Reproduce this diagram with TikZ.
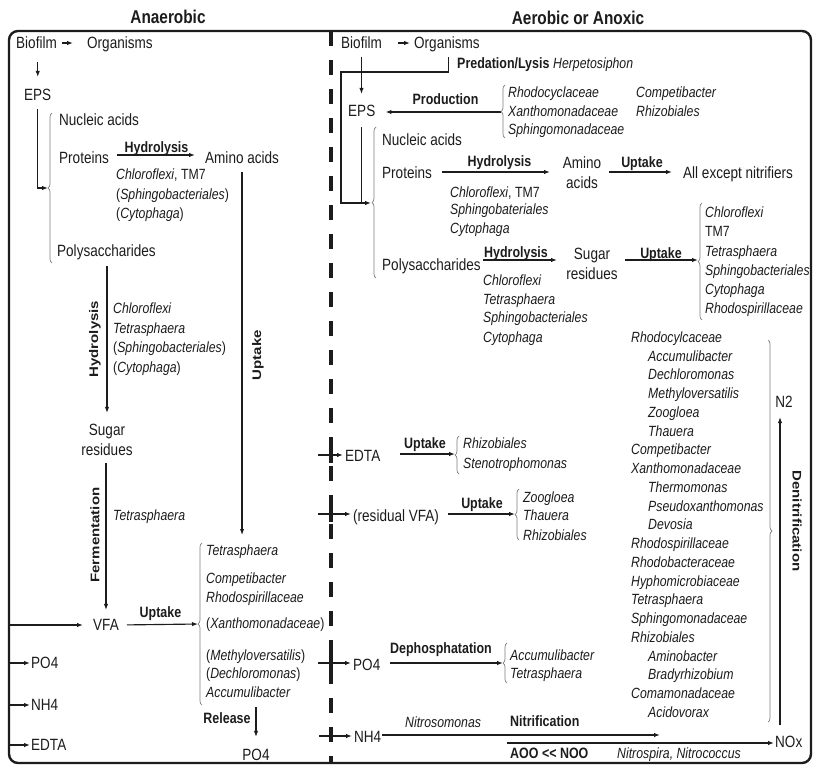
\documentclass[tikz,border=0pt]{standalone}
\usepackage{fontspec}
\setmainfont{Liberation Sans}[FakeStretch=0.83]
\newfontfamily\vertfont{Liberation Sans}
\usepackage{graphicx}
\usetikzlibrary{arrows.meta,decorations.pathreplacing}
\definecolor{ink}{RGB}{28,28,28}
\definecolor{bracegray}{RGB}{125,125,125}
\newcommand\fR{\fontsize{16.3}{19}\selectfont}
\newcommand\fI{\fontsize{14.8}{18}\selectfont\itshape}
\newcommand\fB{\fontsize{15}{18}\selectfont\bfseries}
\newcommand\fT{\fontsize{18.5}{22}\selectfont\bfseries}
\newcommand\fV{\vertfont\fontsize{15}{18}\selectfont\bfseries}
\newcommand\vlabel[1]{\scalebox{1}[0.83]{#1}}
\newcommand\parit[1]{{\upshape(}#1{\upshape)}}
\tikzset{
  base/.style={inner sep=0pt, text depth=0pt, anchor=west, text=ink},
  reg/.style={base, font=\fR, text height=11.7pt},
  ita/.style={base, font=\fI, text height=10.6pt},
  bld/.style={base, font=\fB, text height=10.7pt},
  ttl/.style={base, font=\fT, text height=13.2pt, anchor=center},
  rot/.style={inner sep=0pt, font=\fV, text=ink, anchor=center},
  arr/.style={draw=ink, line width=1.15pt, -{Latex[length=6pt,width=4.4pt]}},
  ln/.style={draw=ink, line width=1.15pt},
  brc/.style={draw=bracegray, line width=0.7pt, decorate, decoration={brace, amplitude=4pt}},
}
\begin{document}
\begin{tikzpicture}[x=1pt,y=-1pt]
\fill[white] (0,0) rectangle (813,766);
\useasboundingbox (0,0) rectangle (813,766);

% frame and the dashed boundary between the two zones
\draw[ink, line width=2.4pt, rounded corners=9pt] (9,31) rectangle (811,763);
\draw[ink, line width=4.5pt, dash pattern=on 15pt off 14pt] (331,31) -- (331,763);

% titles
\node[ttl] (tA) at (168,17) {Anaerobic};
\node[ttl] (tB) at (578,18) {Aerobic or Anoxic};

% ===================== anaerobic zone =====================
\node[reg] (bio1) at (16,43) {Biofilm};
\node[reg] (org1) at (87,43) {Organisms};
\draw[arr, shorten <=5pt, shorten >=14pt] (bio1.east) -- (org1.west);

\node[reg] (eps1) at (24,95) {EPS};
\draw[arr, shorten <=13pt, shorten >=12pt] (bio1.south -| eps1.north) -- (eps1.north);
\coordinate (bL1) at (48,188);
\draw[arr, shorten <=8pt] (eps1.south) |- (bL1);
\draw[brc] (52,263) -- (52,113);

\node[reg] (nuc1) at (59,120) {Nucleic acids};
\node[reg] (prot1) at (59,158) {Proteins};
\node[reg] (amino1) at (205,158) {Amino acids};
\draw[arr, shorten <=8pt, shorten >=10pt] ([yshift=3pt]prot1.east) -- ([yshift=3pt]amino1.west);
\node[bld, anchor=center] at (156.5,147) {Hydrolysis};
\node[ita] at (116,174) {Chloroflexi\upshape, TM7};
\node[ita] at (116,194) {\parit{Sphingobacteriales}};
\node[ita] at (116,213) {\parit{Cytophaga}};

\coordinate (upEnd) at (243,535);
\draw[arr, shorten <=8pt] (amino1.south) -- (amino1.south |- upEnd);
\node[rot, rotate=90] at (258,355) {\vlabel{Uptake}};

\node[reg] (poly1) at (57,251) {Polysaccharides};
\node[reg, anchor=center] (sug1) at (107,430) {Sugar};
\node[reg, anchor=center] (res1) at (107,450) {residues};
\draw[arr, shorten <=9pt, shorten >=11pt] (poly1.south -| sug1.north) -- (sug1.north);
\node[rot, rotate=90] at (95,339) {\vlabel{Hydrolysis}};
\node[ita] at (113,308) {Chloroflexi};
\node[ita] at (113,328) {Tetrasphaera};
\node[ita] at (113,347) {\parit{Sphingobacteriales}};
\node[ita] at (113,367) {\parit{Cytophaga}};

\node[reg, anchor=center] (vfa1) at (106,625) {VFA};
\draw[arr, shorten <=7pt, shorten >=9pt] (res1.south -| vfa1.north) -- (vfa1.north);
\node[rot, rotate=90] at (95,535) {\vlabel{Fermentation}};
\node[ita] at (113,515) {Tetrasphaera};

\coordinate (vfaIn) at (9,625);
\draw[arr, shorten >=10pt] (vfaIn) -- (vfa1.west);
\coordinate (bL2) at (198,624);
\draw[arr, shorten <=8pt] (vfa1.east) -- (bL2);
\node[bld, anchor=center] at (160.5,612) {Uptake};
\draw[brc] (202,705) -- (202,543);
\node[ita] at (206,550) {Tetrasphaera};
\node[ita] at (206,578) {Competibacter};
\node[ita] at (206,597) {Rhodospirillaceae};
\node[ita] at (206,623) {\parit{Xanthomonadaceae}};
\node[ita] at (206,655) {\parit{Methyloversatilis}};
\node[ita] at (206,673) {\parit{Dechloromonas}};
\node[ita] at (206,692) {Accumulibacter};

\node[bld, anchor=center] at (227,718) {Release};
\node[reg, anchor=center] (po4c) at (256,755) {PO4};
\coordinate (relTop) at (256,707);
\draw[arr, shorten >=12pt] (relTop) -- (po4c.north);

\coordinate (inP) at (9,663);
\node[reg] (po4L) at (31,663) {PO4};
\draw[arr, shorten >=1pt] (inP) -- (po4L.west);
\coordinate (inN) at (9,705);
\node[reg] (nh4L) at (31,705) {NH4};
\draw[arr, shorten >=1pt] (inN) -- (nh4L.west);
\coordinate (inE) at (9,745);
\node[reg] (edtaL) at (31,745) {EDTA};
\draw[arr, shorten >=1pt] (inE) -- (edtaL.west);

% ===================== aerobic / anoxic zone =====================
\node[reg] (bio2) at (341,43) {Biofilm};
\node[reg] (org2) at (414,43) {Organisms};
\draw[arr, shorten <=16pt, shorten >=4pt] (bio2.east) -- (org2.west);

\node[reg] (eps2) at (348,111) {EPS};
\draw[arr, shorten <=8pt, shorten >=11pt] (bio2.south) -- (bio2.south |- eps2.north);

\coordinate (predTurn) at (341,72);
\coordinate (epsJoin) at (341,203);
\coordinate (bR1) at (371,203);
\draw[arr] (org2.south) ++(1.5,8) |- (predTurn) -- (epsJoin) -- (bR1);
\draw[ln, shorten <=10pt] (bio2.south |- eps2.south) -- (bio2.south |- epsJoin);
\node[bld] at (457,63) {Predation/Lysis};
\node[ita] at (553,63) {Herpetosiphon};

\coordinate (bProd) at (501,112);
\draw[arr, shorten >=10pt] (bProd) -- (bProd -| eps2.east);
\node[bld, anchor=center] at (445.5,99) {Production};
\draw[brc] (505,138) -- (505,85);
\node[ita] at (508,92) {Rhodocyclaceae};
\node[ita] at (508,111) {Xanthomonadaceae};
\node[ita] at (508,129) {Sphingomonadaceae};
\node[ita] at (636,92) {Competibacter};
\node[ita] at (636,111) {Rhizobiales};

\draw[brc] (376,278) -- (376,127);
\node[reg] (nuc2) at (382,140) {Nucleic acids};
\node[reg] (prot2) at (382,173) {Proteins};
\node[reg, anchor=center] (amino2) at (582,163) {Amino};
\node[reg, anchor=center] (acids2) at (582,183) {acids};
\coordinate (pH0) at (442,172);
\coordinate (pH1) at (550,172);
\draw[arr] (pH0) -- (pH1);
\node[bld, anchor=center] at (499.5,161) {Hydrolysis};
\coordinate (aU0) at (609,172);
\coordinate (aU1) at (672,172);
\draw[arr] (aU0) -- (aU1);
\node[bld, anchor=center] at (642,162) {Uptake};
\node[reg] (allx) at (683,173) {All except nitrifiers};
\node[ita] at (450,192) {Chloroflexi\upshape, TM7};
\node[ita] at (450,209) {Sphingobateriales};
\node[ita] at (450,228) {Cytophaga};

\node[reg] (poly2) at (382,265) {Polysaccharides};
\node[reg, anchor=center] (sug2) at (592,254) {Sugar};
\node[reg, anchor=center] (res2) at (592,274) {residues};
\coordinate (sH0) at (483,260);
\coordinate (sH1) at (557,260);
\draw[arr] (sH0) -- (sH1);
\node[bld, anchor=center] at (516,252) {Hydrolysis};
\node[ita] at (483,280) {Chloroflexi};
\node[ita] at (483,299) {Tetrasphaera};
\node[ita] at (483,317) {Sphingobacteriales};
\node[ita] at (483,337) {Cytophaga};
\coordinate (sU0) at (625,260);
\coordinate (bR2) at (698,260);
\draw[arr] (sU0) -- (bR2);
\node[bld, anchor=center] at (661,253) {Uptake};
\draw[brc] (702,320) -- (702,203);
\node[ita] at (705,212) {Chloroflexi};
\node[ita] at (705,231) {\upshape TM7};
\node[ita] at (705,251) {Tetrasphaera};
\node[ita] at (705,270) {Sphingobacteriales};
\node[ita] at (705,289) {Cytophaga};
\node[ita] at (705,308) {Rhodospirillaceae};

% EDTA
\coordinate (inE2) at (318,455);
\node[reg] (edtaR) at (345,456) {EDTA};
\draw[arr, shorten >=2pt] (inE2) -- (inE2 -| edtaR.west);
\coordinate (eU0) at (400,454);
\coordinate (bR3) at (455,454);
\draw[arr] (eU0) -- (bR3);
\node[bld, anchor=center] at (425,443) {Uptake};
\draw[brc] (459,474) -- (459,436);
\node[ita] at (463,443) {Rhizobiales};
\node[ita] at (463,463) {Stenotrophomonas};

% residual VFA
\coordinate (inV2) at (318,514);
\node[reg] (rvfa) at (353,516) {(residual VFA)};
\draw[arr, shorten >=2pt] (inV2) -- (inV2 -| rvfa.west);
\coordinate (vU0) at (448,514);
\coordinate (bR4) at (515,514);
\draw[arr] (vU0) -- (bR4);
\node[bld, anchor=center] at (482,503) {Uptake};
\draw[brc] (519,540) -- (519,489);
\node[ita] at (523,497) {Zoogloea};
\node[ita] at (523,515) {Thauera};
\node[ita] at (523,535) {Rhizobiales};

% PO4
\coordinate (inP2) at (318,663);
\node[reg] (po4R) at (353,665) {PO4};
\draw[arr, shorten >=2pt] (inP2) -- (inP2 -| po4R.west);
\coordinate (dP0) at (390,663);
\coordinate (bR5) at (503,663);
\draw[arr] (dP0) -- (bR5);
\node[bld, anchor=center] at (441,648) {Dephosphatation};
\draw[brc] (507,683) -- (507,643);
\node[ita] at (510,655) {Accumulibacter};
\node[ita] at (510,673) {Tetrasphaera};

% crossing marks on the boundary
\foreach \yy in {455,514,663}
  \draw[ink, line width=4.5pt] (331,\yy-8) -- (331,\yy+8);

% NH4 and nitrification
\coordinate (inN2) at (319,736);
\node[reg] (nh4R) at (354,737) {NH4};
\draw[arr, shorten >=2pt] (inN2) -- (inN2 -| nh4R.west);
\coordinate (nitMid) at (660,735);
\draw[arr, shorten <=1pt] (nh4R.east |- nitMid) -- (nitMid);
\node[ita] at (405,722) {Nitrosomonas};
\node[bld] at (510,721) {Nitrification};
\node[reg] (nox) at (775,742) {NOx};
\coordinate (nitL) at (507,743);
\draw[arr, shorten >=1pt] (nitL) -- (nitL -| nox.west);
\node[bld] at (510,753) {AOO <\kern0pt< NOO};
\node[ita] at (617,753) {Nitrospira, Nitrococcus};

% denitrifiers
\foreach \taxon/\lvl [count=\i from 0] in {Rhodocylcaceae/0,Accumulibacter/1,Dechloromonas/1,Methyloversatilis/1,Zoogloea/1,Thauera/1,Competibacter/0,Xanthomonadaceae/0,Thermomonas/1,Pseudoxanthomonas/1,Devosia/1,Rhodospirillaceae/0,Rhodobacteraceae/0,Hyphomicrobiaceae/0,Tetrasphaera/0,Sphingomonadaceae/0,Rhizobiales/0,Aminobacter/1,Bradyrhizobium/1,Comamonadaceae/0,Acidovorax/1}
  \node[ita] (den\i) at ({631+17*\lvl},{337+18.75*\i}) {\taxon};
\draw[brc] (768,340) -- (768,722);
\node[reg, anchor=center] (n2) at (784,402) {N2};
\coordinate (denBot) at (780,725);
\draw[arr, shorten >=9pt] (denBot) -- (denBot |- n2.south);
\node[rot, rotate=-90] at (797,521) {\vlabel{Denitrification}};
\end{tikzpicture}
\end{document}
